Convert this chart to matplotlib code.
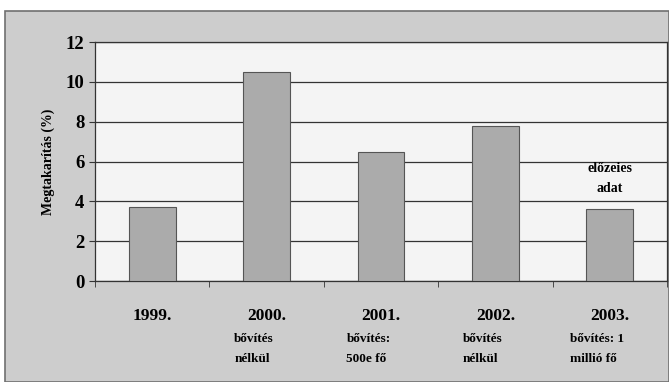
import numpy as np
import matplotlib.pyplot as plt
from matplotlib.patches import Rectangle

years = ['1999.', '2000.', '2001.', '2002.', '2003.']
notes = ['', 'bővítés\nnélkül', 'bővítés:\n500e fő', 'bővítés\nnélkül', 'bővítés: 1\nmillió fő']
savings = [3.7, 10.5, 6.5, 7.8, 3.6]
ylabel = 'Megtakarítás (%)'
remark = 'előzeies\nadat'

plt.rcParams['font.family'] = ['Liberation Serif', 'DejaVu Serif']
plt.rcParams['font.weight'] = 'bold'
plt.rcParams['axes.labelweight'] = 'bold'

fig = plt.figure(figsize=(6.69, 3.82), dpi=100, facecolor='white')
fig.patches.append(Rectangle((0.008, 0), 0.992, 0.972, transform=fig.transFigure,
                             facecolor='#cdcdcd', edgecolor='#707070', lw=1.2, zorder=-1))
ax = fig.add_axes([0.142, 0.264, 0.855, 0.626])
ax.set_facecolor('#f4f4f4')

x = np.arange(len(years))
ax.bar(x, savings, width=0.41, color='#ababab', edgecolor='#555555', lw=0.8, zorder=3)
ax.set_xlim(-0.5, len(years) - 0.5)
ax.set_ylim(0, 12)
ax.set_yticks(range(0, 13, 2))
ax.tick_params(axis='y', labelsize=13.5, length=4, direction='out', color='#333333')
ax.grid(axis='y', color='#333333', lw=0.9, zorder=1)
for s in ax.spines.values():
    s.set_color('#333333')
    s.set_linewidth(0.9)

ax.set_xticks(x)
ax.set_xticklabels(years, fontsize=12.5)
ax.tick_params(axis='x', length=0, pad=19)
ax.set_xticks(np.arange(-0.5, len(years)), minor=True)
ax.tick_params(axis='x', which='minor', length=4, color='#333333', direction='out')

for i, n in enumerate(notes):
    if n:
        ax.annotate(n, xy=(i, 0), xycoords=('data', 'axes fraction'),
                    xytext=(-9, -49), textcoords='offset points',
                    ha='center', va='center', ma='left', fontsize=9.5, linespacing=1.85)

ax.text(4, 5.15, remark, ha='center', va='center', fontsize=10, linespacing=1.75)
ax.set_ylabel(ylabel, fontsize=10, labelpad=8)

fig.savefig('out.png', dpi=100, facecolor=fig.get_facecolor())
